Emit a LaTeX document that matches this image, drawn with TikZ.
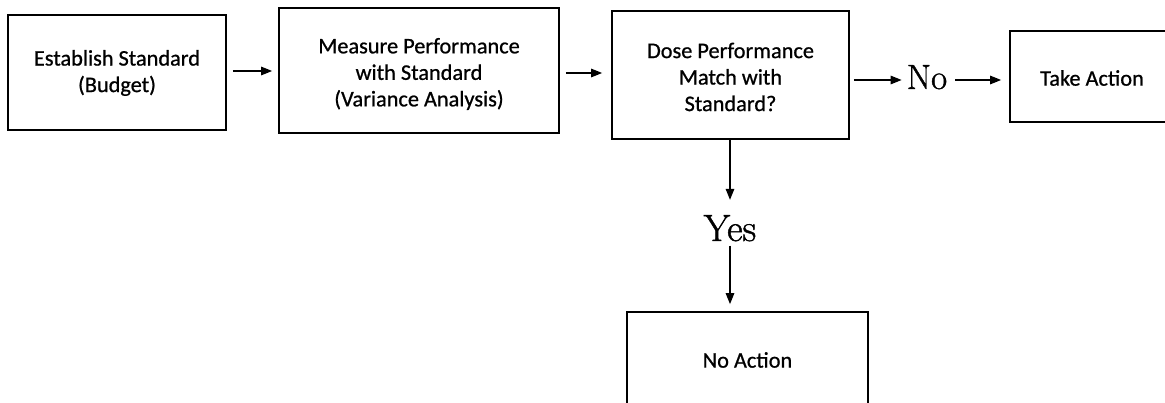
\documentclass[tikz,border=0pt]{standalone}
\usepackage{fontspec}
\newfontfamily\boxfont{Carlito}[FakeBold=0.8]
\newfontfamily\labfont{Latin Modern Roman}[FakeBold=1.2]
\usetikzlibrary{arrows.meta}
\begin{document}
\begin{tikzpicture}[x=1pt,y=-1pt,
  box/.style={draw, line width=1.7pt, inner sep=0pt},
  txt/.style={inner sep=0pt, align=center,
    font=\boxfont\fontsize{22.3}{26.5}\selectfont},
  arr/.style={line width=1.3pt, -{Triangle[length=11pt,width=8.5pt]}},
  lab/.style={inner sep=0pt}]
\useasboundingbox (0,0) rectangle (1165,403);
\clip (0,0) rectangle (1165,403);
\fill[white] (0,0) rectangle (1165,403);

\node[box, minimum width=218pt, minimum height=115pt] (b1) at (117,72.5) {};
\node[txt] (t1) at ([yshift=-0.5pt]b1.center) {Establish Standard\\(Budget)};
\node[box, minimum width=280pt, minimum height=125pt] (b2) at (419,70.5) {};
\node[txt] (t2) at ([yshift=-3.5pt]b2.center)
  {Measure Performance\\with Standard\\(Variance Analysis)};
\node[box, minimum width=237pt, minimum height=128pt] (b3) at (730.5,75) {};
\node[txt] (t3) at ([yshift=-2pt]b3.center)
  {Dose Performance\\Match with\\Standard?};
\node[box, minimum width=164pt, minimum height=91pt] (take) at (1092,76.5) {};
\node[txt] (t4) at ([yshift=-1.5pt]take.center) {Take Action};
\node[box, minimum width=241pt, minimum height=96pt] (na) at (747.5,360) {};
\node[txt] (t5) at (na.center) {No Action};

\node[lab, font=\labfont\fontsize{35}{35}\selectfont, anchor=base] (no) at (927,89) {No};
\node[lab, font=\labfont\fontsize{38}{38}\selectfont, anchor=base] (yes) at (730,241) {Yes};

\draw[arr, shorten <=6pt, shorten >=6pt] (b1.east |- 0,71) -- (b2.west |- 0,71);
\draw[arr, shorten <=6pt, shorten >=9pt] (b2.east |- 0,73) -- (b3.west |- 0,73);
\draw[arr, shorten <=4pt, shorten >=5pt] (b3.east |- 0,80) -- (no.west |- 0,80);
\draw[arr, shorten <=8pt, shorten >=8pt] (no.east |- 0,80) -- (take.west |- 0,80);
\draw[arr] (b3.south -| yes) -- ([yshift=15pt]yes.north);
\draw[arr, shorten <=4pt, shorten >=7pt] (yes.south) -- (yes |- na.north);
\end{tikzpicture}
\end{document}
